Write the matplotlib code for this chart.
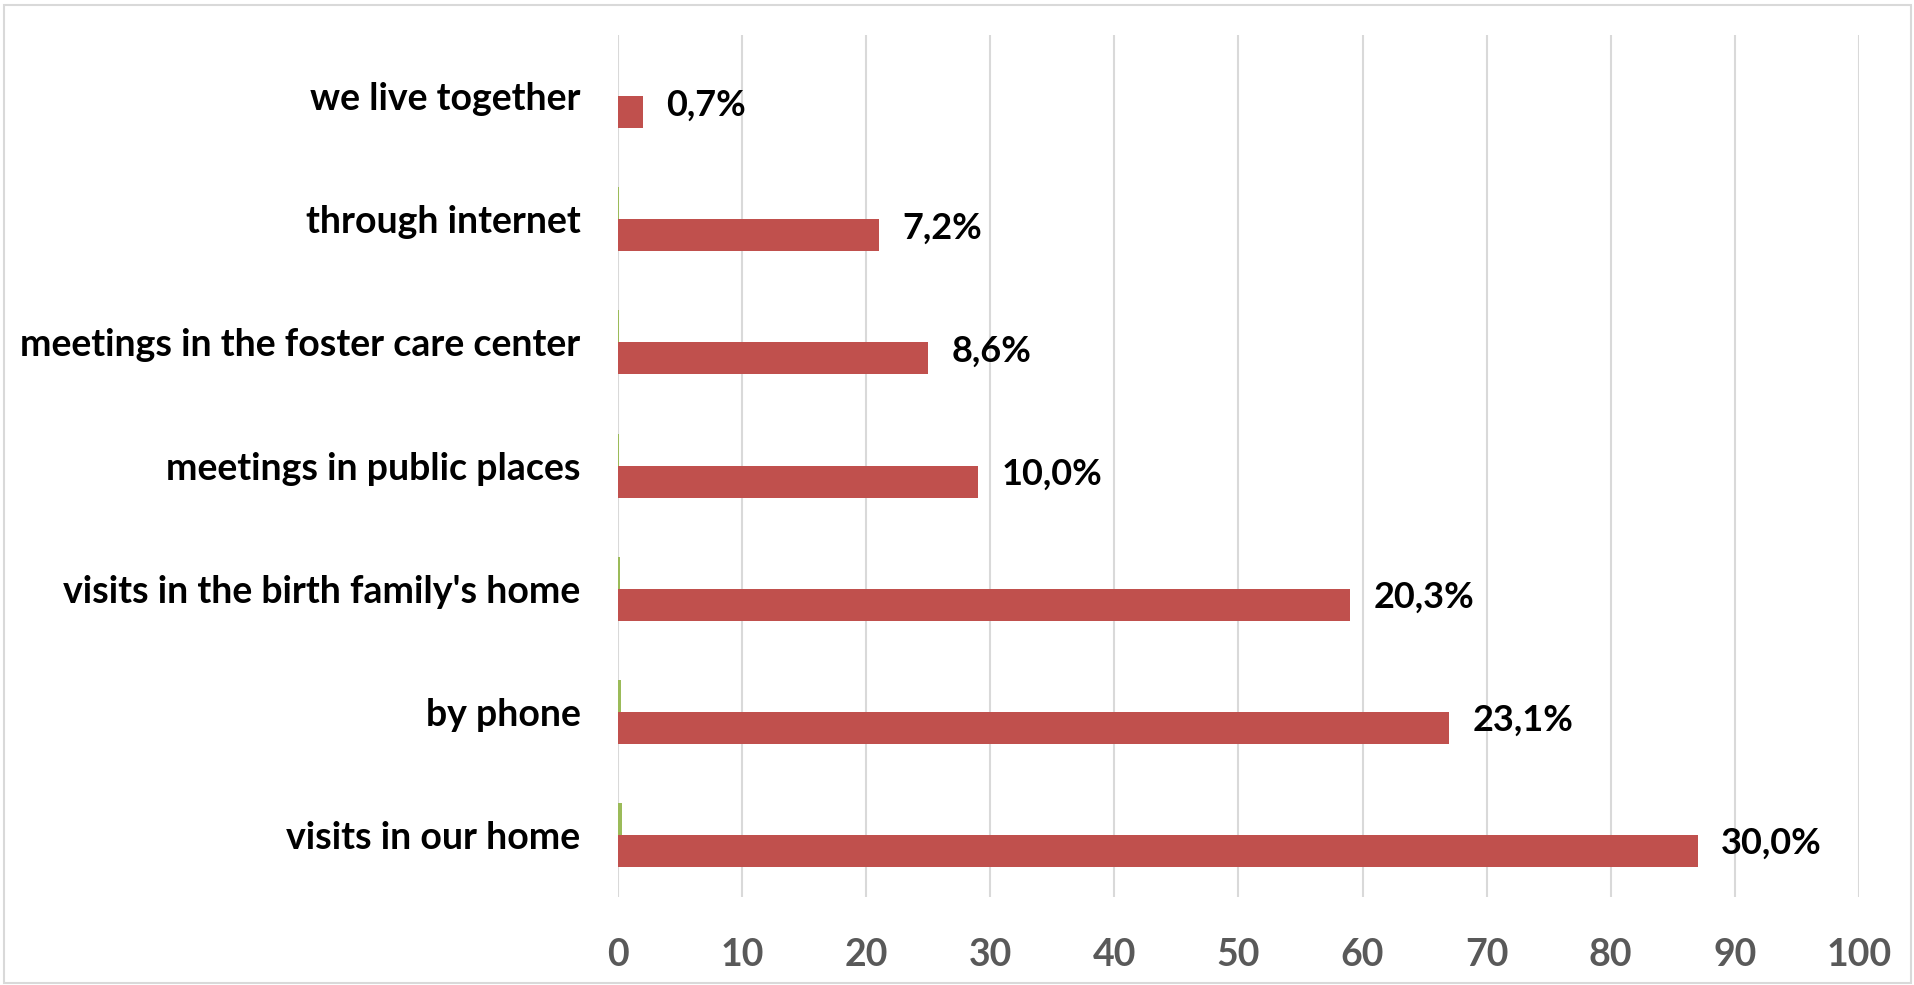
import matplotlib.pyplot as plt
import numpy as np
from matplotlib.patches import Rectangle

# categories from top to bottom as in the chart
categories = ["we live together", "through internet", "meetings in the foster care center",
              "meetings in public places", "visits in the birth family's home",
              "by phone", "visits in our home"]
counts = [2, 21, 25, 29, 59, 67, 87]
shares = [0.007, 0.072, 0.086, 0.100, 0.203, 0.231, 0.300]
labels = ["0,7%", "7,2%", "8,6%", "10,0%", "20,3%", "23,1%", "30,0%"]
xticks = [0, 10, 20, 30, 40, 50, 60, 70, 80, 90, 100]

plt.rcParams['font.family'] = ['Lato', 'DejaVu Sans']

fig = plt.figure(figsize=(19.15, 9.85), dpi=100)
ax = fig.add_axes([0.3227, 0.0898, 0.648, 0.875])

y = np.arange(len(categories))
h = 0.26
ax.barh(y - h / 2, shares, height=h, color='#9BBB59')
ax.barh(y + h / 2, counts, height=h, color='#C0504D')

for yi, c, lab in zip(y, counts, labels):
    ax.text(c + 1.9, yi + h / 2 - 0.06, lab, va='center', ha='left',
            fontsize=26, fontweight='bold', color='black')

ax.set_xlim(0, 100)
ax.set_ylim(len(categories) - 0.5, -0.5)
ax.set_xticks(xticks)
ax.set_yticks(y)
ax.set_yticklabels(categories, fontsize=27, fontweight='bold')
ax.tick_params(axis='y', length=0, pad=27, labelcolor='black')
ax.tick_params(axis='x', length=0, pad=30, labelsize=27, labelcolor='#595959')
for t in ax.get_xticklabels():
    t.set_fontweight('bold')

ax.grid(axis='x', color='#d9d9d9', linewidth=1.5)
ax.set_axisbelow(True)
for s in ax.spines.values():
    s.set_visible(False)

# chart border
fig.patches.append(Rectangle((0.002, 0.002), 0.996, 0.993, transform=fig.transFigure,
                             fill=False, edgecolor='#d9d9d9', linewidth=1.5))

fig.savefig('out.png', dpi=100)
